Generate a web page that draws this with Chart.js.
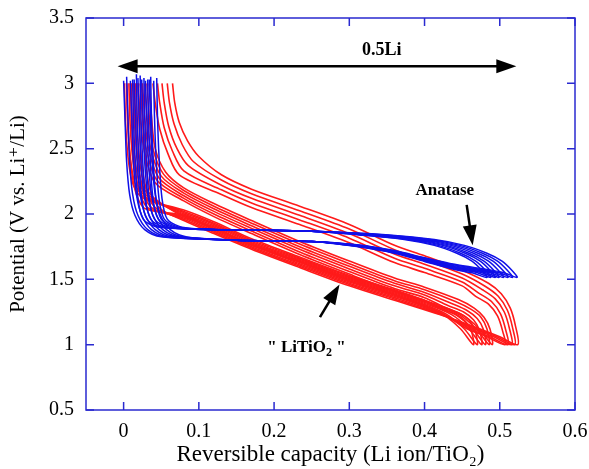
<!DOCTYPE html>
<html>
<head>
<meta charset="utf-8">
<script src="https://cdn.jsdelivr.net/npm/chart.js"></script>
<style>
  html, body { margin: 0; padding: 0; background: #fff; }
  canvas { display: block; }
</style>
</head>
<body>
<canvas id="chart" width="589" height="469"></canvas>
<script>
const xTicks = [0, 0.1, 0.2, 0.3, 0.4, 0.5, 0.6];
const yTicks = [0.5, 1, 1.5, 2, 2.5, 3, 3.5];

// anatase cycles: discharge from 3 V to the tip, then charge back to 3 V  [x, V]
const anatase1 = [[0.000,3.02],[0.002,2.70],[0.004,2.40],[0.008,2.15],[0.015,1.99],[0.028,1.88],[0.050,1.825],[0.150,1.800],[0.250,1.790],[0.310,1.765],[0.360,1.720],[0.400,1.665],[0.440,1.615],[0.503,1.555],[0.523,1.515],
  [0.516,1.57],[0.503,1.64],[0.483,1.70],[0.453,1.76],[0.413,1.805],[0.353,1.84],[0.250,1.868],[0.150,1.878],[0.080,1.888],[0.042,1.905],[0.026,1.96],[0.019,2.12],[0.015,2.45],[0.013,2.75],[0.012,3.03]];
const anatase2 = [[0.004,3.05],[0.006,2.70],[0.008,2.40],[0.012,2.15],[0.019,1.99],[0.032,1.88],[0.054,1.825],[0.150,1.800],[0.250,1.790],[0.310,1.763],[0.360,1.717],[0.400,1.661],[0.440,1.609],[0.497,1.555],[0.517,1.515],
  [0.510,1.57],[0.497,1.64],[0.477,1.70],[0.447,1.76],[0.407,1.805],[0.347,1.84],[0.250,1.868],[0.150,1.878],[0.080,1.888],[0.047,1.905],[0.031,1.96],[0.024,2.12],[0.020,2.45],[0.018,2.75],[0.017,3.07]];
const anatase3 = [[0.009,3.02],[0.011,2.70],[0.013,2.40],[0.017,2.15],[0.024,1.99],[0.037,1.88],[0.059,1.825],[0.150,1.800],[0.250,1.790],[0.310,1.761],[0.360,1.714],[0.400,1.657],[0.440,1.603],[0.491,1.555],[0.511,1.515],
  [0.504,1.57],[0.491,1.64],[0.471,1.70],[0.441,1.76],[0.401,1.805],[0.341,1.84],[0.250,1.868],[0.150,1.878],[0.080,1.888],[0.052,1.905],[0.036,1.96],[0.029,2.12],[0.025,2.45],[0.023,2.75],[0.022,3.06]];
const anatase4 = [[0.014,3.03],[0.016,2.70],[0.018,2.40],[0.022,2.15],[0.029,1.99],[0.042,1.88],[0.064,1.825],[0.150,1.800],[0.250,1.790],[0.310,1.759],[0.360,1.711],[0.400,1.653],[0.440,1.597],[0.485,1.555],[0.505,1.515],
  [0.498,1.57],[0.485,1.64],[0.465,1.70],[0.435,1.76],[0.395,1.805],[0.335,1.84],[0.250,1.868],[0.150,1.878],[0.080,1.888],[0.057,1.905],[0.041,1.96],[0.034,2.12],[0.030,2.45],[0.028,2.75],[0.027,3.04]];
const anatase5 = [[0.019,3.04],[0.021,2.70],[0.023,2.40],[0.027,2.15],[0.034,1.99],[0.047,1.88],[0.069,1.825],[0.150,1.800],[0.250,1.790],[0.310,1.757],[0.360,1.708],[0.400,1.649],[0.440,1.591],[0.479,1.555],[0.499,1.515],
  [0.492,1.57],[0.479,1.64],[0.459,1.70],[0.429,1.76],[0.389,1.805],[0.329,1.84],[0.250,1.868],[0.150,1.878],[0.080,1.888],[0.062,1.905],[0.046,1.96],[0.039,2.12],[0.035,2.45],[0.033,2.75],[0.032,3.03]];
const anatase6 = [[0.024,3.03],[0.026,2.70],[0.028,2.40],[0.032,2.15],[0.039,1.99],[0.052,1.88],[0.074,1.825],[0.150,1.800],[0.250,1.790],[0.310,1.755],[0.360,1.706],[0.400,1.645],[0.440,1.586],[0.474,1.555],[0.494,1.515],
  [0.487,1.57],[0.474,1.64],[0.454,1.70],[0.424,1.76],[0.384,1.805],[0.324,1.84],[0.250,1.868],[0.150,1.878],[0.085,1.888],[0.066,1.905],[0.050,1.96],[0.043,2.12],[0.039,2.45],[0.037,2.75],[0.036,3.05]];
const anatase7 = [[0.029,3.02],[0.031,2.70],[0.033,2.40],[0.037,2.15],[0.044,1.99],[0.057,1.88],[0.079,1.825],[0.150,1.800],[0.250,1.790],[0.310,1.753],[0.360,1.703],[0.400,1.641],[0.440,1.580],[0.468,1.555],[0.488,1.515],
  [0.481,1.57],[0.468,1.64],[0.448,1.70],[0.418,1.76],[0.378,1.805],[0.318,1.84],[0.250,1.868],[0.150,1.878],[0.090,1.888],[0.070,1.905],[0.054,1.96],[0.047,2.12],[0.043,2.45],[0.041,2.75],[0.040,3.02]];
const anatase8 = [[0.034,3.03],[0.036,2.70],[0.038,2.40],[0.042,2.15],[0.049,1.99],[0.062,1.88],[0.084,1.825],[0.150,1.800],[0.250,1.790],[0.310,1.751],[0.360,1.700],[0.400,1.637],[0.440,1.575],[0.463,1.550],[0.483,1.515],
  [0.476,1.57],[0.463,1.64],[0.443,1.70],[0.413,1.76],[0.373,1.805],[0.313,1.84],[0.250,1.868],[0.150,1.878],[0.095,1.888],[0.074,1.905],[0.058,1.96],[0.051,2.12],[0.047,2.45],[0.045,2.75],[0.044,3.04]];

// "LiTiO2" cycles, wide loops ending near 0.51-0.52
const litio2B1 = [[0.024,3.00],[0.026,2.65],[0.030,2.35],[0.037,2.15],[0.049,2.04],[0.080,1.95],[0.120,1.85],[0.170,1.73],[0.234,1.59],[0.300,1.45],[0.360,1.34],[0.420,1.23],[0.474,1.12],[0.500,1.06],[0.524,1.00],
  [0.521,1.14],[0.514,1.28],[0.502,1.39],[0.485,1.47],[0.450,1.57],[0.400,1.68],[0.360,1.76],[0.300,1.92],[0.234,2.06],[0.170,2.19],[0.130,2.30],[0.100,2.44],[0.085,2.56],[0.074,2.70],[0.068,2.85],[0.065,3.00]];
const litio2B2 = [[0.019,3.00],[0.021,2.65],[0.025,2.35],[0.032,2.15],[0.044,2.04],[0.080,1.96],[0.120,1.86],[0.170,1.74],[0.234,1.60],[0.300,1.46],[0.360,1.35],[0.420,1.235],[0.470,1.12],[0.496,1.06],[0.520,1.00],
  [0.517,1.13],[0.510,1.265],[0.498,1.37],[0.481,1.445],[0.450,1.54],[0.400,1.648],[0.360,1.727],[0.300,1.885],[0.234,2.025],[0.170,2.155],[0.130,2.26],[0.093,2.40],[0.078,2.53],[0.067,2.69],[0.061,2.85],[0.058,3.00]];
const litio2B3 = [[0.014,3.00],[0.016,2.65],[0.020,2.35],[0.027,2.15],[0.039,2.04],[0.080,1.97],[0.120,1.87],[0.170,1.75],[0.234,1.61],[0.300,1.47],[0.360,1.36],[0.420,1.24],[0.466,1.12],[0.492,1.06],[0.516,1.00],
  [0.513,1.12],[0.506,1.25],[0.494,1.35],[0.477,1.42],[0.450,1.51],[0.400,1.616],[0.360,1.694],[0.300,1.85],[0.234,1.99],[0.170,2.12],[0.130,2.22],[0.086,2.37],[0.071,2.50],[0.060,2.67],[0.054,2.85],[0.051,3.00]];
const litio2B4 = [[0.009,3.00],[0.011,2.65],[0.015,2.35],[0.022,2.15],[0.034,2.04],[0.080,1.98],[0.120,1.88],[0.170,1.76],[0.234,1.62],[0.300,1.48],[0.360,1.37],[0.420,1.245],[0.461,1.12],[0.487,1.06],[0.511,1.00],
  [0.508,1.11],[0.501,1.235],[0.489,1.33],[0.472,1.395],[0.450,1.48],[0.400,1.584],[0.360,1.661],[0.300,1.815],[0.234,1.955],[0.170,2.085],[0.130,2.185],[0.080,2.33],[0.065,2.48],[0.054,2.66],[0.048,2.85],[0.045,3.00]];
const litio2B5 = [[0.004,3.00],[0.006,2.65],[0.010,2.35],[0.017,2.15],[0.029,2.04],[0.080,1.99],[0.120,1.89],[0.170,1.77],[0.234,1.63],[0.300,1.49],[0.360,1.38],[0.420,1.25],[0.457,1.12],[0.483,1.06],[0.507,1.00],
  [0.504,1.10],[0.497,1.22],[0.485,1.31],[0.468,1.37],[0.450,1.45],[0.400,1.552],[0.360,1.628],[0.300,1.78],[0.234,1.92],[0.170,2.05],[0.130,2.15],[0.074,2.30],[0.059,2.46],[0.048,2.65],[0.042,2.85],[0.039,3.00]];

// "LiTiO2" cycles, narrower loops ending near 0.47-0.49
const litio2A1 = [[0.001,3.00],[0.003,2.65],[0.007,2.38],[0.013,2.22],[0.026,2.12],[0.080,2.03],[0.120,1.94],[0.170,1.81],[0.234,1.67],[0.300,1.53],[0.360,1.42],[0.400,1.34],[0.450,1.23],[0.473,1.12],[0.490,1.00],
  [0.487,1.12],[0.479,1.21],[0.466,1.28],[0.445,1.345],[0.400,1.44],[0.360,1.51],[0.300,1.64],[0.234,1.79],[0.170,1.95],[0.120,2.08],[0.080,2.20],[0.056,2.32],[0.042,2.50],[0.037,2.75],[0.034,3.00]];
const litio2A2 = [[0.004,3.00],[0.006,2.65],[0.010,2.38],[0.016,2.22],[0.029,2.12],[0.080,2.02],[0.120,1.93],[0.170,1.80],[0.234,1.662],[0.300,1.522],[0.360,1.412],[0.400,1.332],[0.446,1.23],[0.469,1.12],[0.486,1.00],
  [0.483,1.12],[0.475,1.21],[0.462,1.27],[0.441,1.33],[0.400,1.42],[0.360,1.49],[0.300,1.62],[0.234,1.77],[0.170,1.93],[0.120,2.06],[0.080,2.18],[0.053,2.305],[0.039,2.50],[0.034,2.75],[0.031,3.00]];
const litio2A3 = [[0.007,3.00],[0.009,2.65],[0.013,2.38],[0.019,2.22],[0.032,2.12],[0.080,2.01],[0.120,1.92],[0.170,1.79],[0.234,1.654],[0.300,1.514],[0.360,1.404],[0.400,1.324],[0.441,1.23],[0.464,1.12],[0.481,1.00],
  [0.478,1.12],[0.470,1.20],[0.457,1.26],[0.436,1.315],[0.400,1.40],[0.360,1.47],[0.300,1.60],[0.234,1.75],[0.170,1.91],[0.120,2.04],[0.080,2.16],[0.050,2.29],[0.036,2.50],[0.031,2.75],[0.028,3.00]];
const litio2A4 = [[0.010,3.00],[0.012,2.65],[0.016,2.38],[0.022,2.22],[0.035,2.12],[0.080,2.00],[0.120,1.91],[0.170,1.78],[0.234,1.646],[0.300,1.506],[0.360,1.396],[0.400,1.316],[0.436,1.23],[0.459,1.12],[0.476,1.00],
  [0.473,1.11],[0.465,1.19],[0.452,1.25],[0.431,1.30],[0.400,1.38],[0.360,1.45],[0.300,1.58],[0.234,1.73],[0.170,1.89],[0.120,2.02],[0.080,2.14],[0.047,2.275],[0.033,2.50],[0.028,2.75],[0.025,3.00]];
const litio2A5 = [[0.013,3.00],[0.015,2.65],[0.019,2.38],[0.025,2.22],[0.038,2.12],[0.080,1.99],[0.120,1.90],[0.170,1.77],[0.234,1.638],[0.300,1.498],[0.360,1.388],[0.400,1.308],[0.430,1.23],[0.453,1.12],[0.470,1.00],
  [0.467,1.11],[0.459,1.19],[0.446,1.24],[0.425,1.29],[0.400,1.36],[0.360,1.43],[0.300,1.56],[0.234,1.71],[0.170,1.87],[0.120,2.00],[0.080,2.12],[0.044,2.26],[0.030,2.50],[0.025,2.75],[0.022,3.00]];
const litio2A6 = [[0.016,3.00],[0.018,2.65],[0.022,2.38],[0.028,2.22],[0.041,2.12],[0.080,1.98],[0.120,1.89],[0.170,1.76],[0.234,1.63],[0.300,1.49],[0.360,1.38],[0.400,1.30],[0.425,1.23],[0.448,1.12],[0.465,1.00],
  [0.462,1.11],[0.454,1.18],[0.441,1.235],[0.420,1.28],[0.400,1.34],[0.360,1.41],[0.300,1.54],[0.234,1.69],[0.170,1.85],[0.120,1.98],[0.080,2.10],[0.041,2.245],[0.027,2.50],[0.022,2.75],[0.019,3.00]];

const anataseCycles = [anatase1, anatase2, anatase3, anatase4, anatase5, anatase6, anatase7, anatase8];
const litio2Cycles = [litio2B1, litio2B2, litio2B3, litio2B4, litio2B5, litio2A1, litio2A2, litio2A3, litio2A4, litio2A5, litio2A6];

// annotation anchors in data units
const spanArrow = [[-0.008, 3.13], [0.522, 3.13]];
const spanLabel = [0.343, 3.255];
const anataseArrow = [[0.456, 2.07], [0.464, 1.76]];
const anataseLabel = [0.427, 2.18];
const litio2Arrow = [[0.261, 1.21], [0.287, 1.46]];
const litio2Label = [0.243, 0.98];

const blue = '#1010e8';
const red = '#ff1a1a';
const frameBlue = '#2a2ad0';
const serif = "'Liberation Serif', 'DejaVu Serif', serif";

const toPoints = cycle => cycle.map(p => ({ x: p[0], y: p[1] }));

const datasets = [
  ...anataseCycles.map((c, i) => ({
    label: 'Anatase ' + (i + 1),
    data: toPoints(c),
    borderColor: blue,
    borderWidth: 1.5,
  })),
  ...litio2Cycles.map((c, i) => ({
    label: 'LiTiO2 ' + (i + 1),
    data: toPoints(c),
    borderColor: red,
    borderWidth: 1.6,
  })),
].map(d => ({ ...d, showLine: true, pointRadius: 0, tension: 0.3, fill: false }));

const drawArrow = (ctx, x1, y1, x2, y2, bothEnds) => {
  const ang = Math.atan2(y2 - y1, x2 - x1);
  const head = (x, y, a) => {
    ctx.beginPath();
    ctx.moveTo(x, y);
    ctx.lineTo(x - 20 * Math.cos(a) + 7 * Math.sin(a), y - 20 * Math.sin(a) - 7 * Math.cos(a));
    ctx.lineTo(x - 20 * Math.cos(a) - 7 * Math.sin(a), y - 20 * Math.sin(a) + 7 * Math.cos(a));
    ctx.closePath();
    ctx.fill();
  };
  ctx.beginPath();
  ctx.moveTo(x1 + (bothEnds ? 15 * Math.cos(ang) : 0), y1 + (bothEnds ? 15 * Math.sin(ang) : 0));
  ctx.lineTo(x2 - 15 * Math.cos(ang), y2 - 15 * Math.sin(ang));
  ctx.stroke();
  head(x2, y2, ang);
  if (bothEnds) head(x1, y1, ang + Math.PI);
};

const framePlugin = {
  id: 'frame',
  afterDatasetsDraw(chart) {
    const { ctx, chartArea: a, scales: { x, y } } = chart;
    ctx.save();
    ctx.strokeStyle = frameBlue;
    ctx.lineWidth = 1.5;
    ctx.strokeRect(a.left, a.top, a.right - a.left, a.bottom - a.top);
    ctx.beginPath();
    xTicks.forEach(v => {
      const px = x.getPixelForValue(v);
      ctx.moveTo(px, a.bottom); ctx.lineTo(px, a.bottom - 8);
      ctx.moveTo(px, a.top); ctx.lineTo(px, a.top + 8);
    });
    yTicks.forEach(v => {
      const py = y.getPixelForValue(v);
      ctx.moveTo(a.left, py); ctx.lineTo(a.left + 8, py);
      ctx.moveTo(a.right, py); ctx.lineTo(a.right - 8, py);
    });
    ctx.stroke();

    // annotations
    const px = p => [x.getPixelForValue(p[0]), y.getPixelForValue(p[1])];
    ctx.strokeStyle = '#000';
    ctx.fillStyle = '#000';
    ctx.lineWidth = 2.5;
    let [s1, s2] = [px(spanArrow[0]), px(spanArrow[1])];
    drawArrow(ctx, s1[0], s1[1], s2[0], s2[1], true);
    [s1, s2] = [px(anataseArrow[0]), px(anataseArrow[1])];
    drawArrow(ctx, s1[0], s1[1], s2[0], s2[1], false);
    [s1, s2] = [px(litio2Arrow[0]), px(litio2Arrow[1])];
    drawArrow(ctx, s1[0], s1[1], s2[0], s2[1], false);

    ctx.textAlign = 'center';
    ctx.textBaseline = 'middle';
    ctx.font = 'bold 18px ' + serif;
    let t = px(spanLabel);
    ctx.fillText('0.5Li', t[0], t[1]);
    ctx.font = 'bold 17px ' + serif;
    t = px(anataseLabel);
    ctx.fillText('Anatase', t[0], t[1]);

    // " LiTiO2 " with a lowered 2
    t = px(litio2Label);
    const left = '" LiTiO', right = ' "';
    ctx.font = 'bold 17px ' + serif;
    const wl = ctx.measureText(left).width, wr = ctx.measureText(right).width;
    ctx.font = 'bold 12px ' + serif;
    const ws = ctx.measureText('2').width;
    let sx = t[0] - (wl + ws + wr) / 2;
    ctx.textAlign = 'left';
    ctx.font = 'bold 17px ' + serif;
    ctx.fillText(left, sx, t[1]);
    ctx.font = 'bold 12px ' + serif;
    ctx.fillText('2', sx + wl, t[1] + 6);
    ctx.font = 'bold 17px ' + serif;
    ctx.fillText(right, sx + wl + ws, t[1]);
    ctx.restore();
  }
};

const noOverhang = s => {
  s.paddingLeft = 0; s.paddingRight = 0; s.paddingTop = 0; s.paddingBottom = 0;
};

new Chart(document.getElementById('chart'), {
  type: 'scatter',
  data: { datasets },
  options: {
    responsive: false,
    animation: false,
    devicePixelRatio: 1,
    layout: { padding: { top: 18, right: 14, left: 0, bottom: 0 } },
    plugins: { legend: { display: false }, tooltip: { enabled: false } },
    scales: {
      x: {
        type: 'linear',
        min: -0.05,
        max: 0.6,
        grid: { display: false, drawTicks: false },
        border: { display: false },
        afterBuildTicks: s => { s.ticks = xTicks.map(v => ({ value: v })); },
        afterFit: s => { s.height = 59; noOverhang(s); },
        ticks: { color: '#000', padding: 10, font: { family: serif, size: 20 }, callback: v => String(v) },
        title: { display: true, text: 'Reversible capacity (Li ion/TiO₂)', color: '#000', padding: { top: 0, bottom: 0 }, font: { family: serif, size: 23 } },
      },
      y: {
        type: 'linear',
        min: 0.5,
        max: 3.5,
        grid: { display: false, drawTicks: false },
        border: { display: false },
        afterBuildTicks: s => { s.ticks = yTicks.map(v => ({ value: v })); },
        afterFit: s => { s.width = 86; noOverhang(s); },
        ticks: { color: '#000', padding: 12, font: { family: serif, size: 20 }, callback: v => String(v) },
        title: { display: true, text: 'Potential (V vs. Li⁺/Li)', color: '#000', padding: { top: 6, bottom: 0 }, font: { family: serif, size: 21 } },
      },
    },
  },
  plugins: [framePlugin],
});
</script>
</body>
</html>
